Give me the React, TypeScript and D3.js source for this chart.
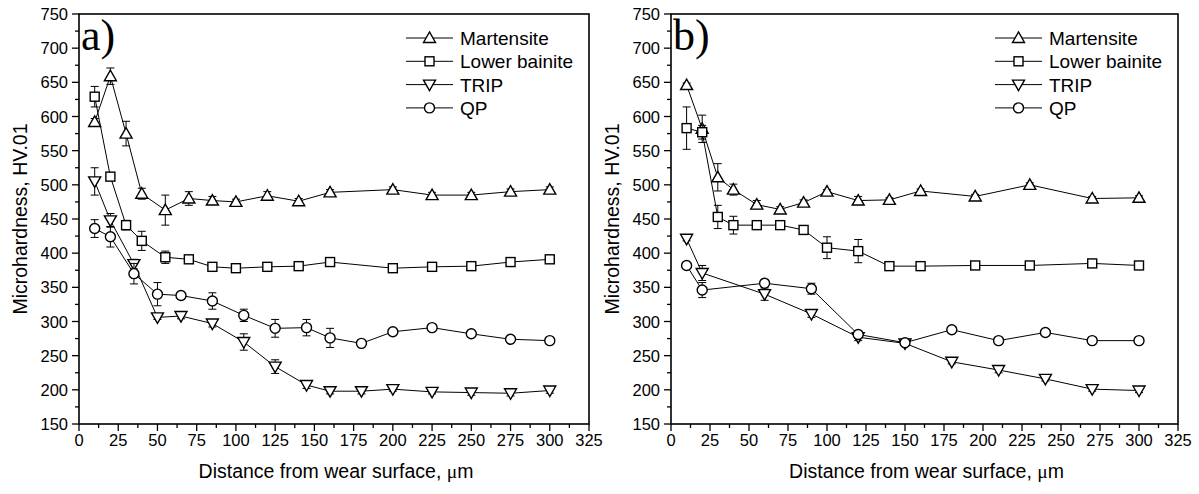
import React from 'react';
import * as d3 from 'd3';

// panel a) data
const aMartX = [10, 20, 30, 40, 55, 70, 85, 100, 120, 140, 160, 200, 225, 250, 275, 300];
const aMartY = [592, 659, 575, 487, 463, 480, 477, 475, 484, 476, 489, 493, 485, 485, 490, 493];
const aMartE = [5, 12, 18, 8, 22, 10, 6, 4, 6, 4, 4, 4, 4, 4, 4, 4];

const aBainX = [10, 20, 30, 40, 55, 70, 85, 100, 120, 140, 160, 200, 225, 250, 275, 300];
const aBainY = [629, 512, 441, 418, 394, 391, 380, 378, 380, 381, 387, 378, 380, 381, 387, 391];
const aBainE = [15, 5, 7, 14, 9, 5, 4, 3, 3, 3, 3, 4, 3, 3, 4, 3];

const aTripX = [10, 20, 35, 50, 65, 85, 105, 125, 145, 160, 180, 200, 225, 250, 275, 300];
const aTripY = [505, 448, 384, 306, 308, 297, 270, 234, 207, 198, 198, 201, 197, 196, 195, 199];
const aTripE = [20, 10, 7, 3, 4, 5, 12, 10, 5, 4, 4, 3, 3, 4, 4, 4];

const aQpX = [10, 20, 35, 50, 65, 85, 105, 125, 145, 160, 180, 200, 225, 250, 275, 300];
const aQpY = [436, 424, 370, 340, 338, 330, 309, 290, 291, 276, 268, 285, 291, 282, 274, 272];
const aQpE = [13, 15, 15, 17, 5, 12, 9, 13, 12, 14, 3, 3, 3, 3, 4, 4];

// panel b) data
const bMartX = [10, 20, 30, 40, 55, 70, 85, 100, 120, 140, 160, 195, 230, 270, 300];
const bMartY = [646, 582, 511, 493, 471, 464, 474, 490, 477, 478, 491, 483, 500, 480, 481];
const bMartE = [3, 20, 20, 8, 6, 4, 4, 3, 6, 3, 3, 3, 3, 3, 3];

const bBainX = [10, 20, 30, 40, 55, 70, 85, 100, 120, 140, 160, 195, 230, 270, 300];
const bBainY = [583, 577, 453, 441, 441, 441, 434, 408, 403, 381, 381, 382, 382, 385, 382];
const bBainE = [31, 10, 17, 13, 5, 4, 5, 16, 17, 3, 3, 3, 3, 3, 3];

const bTripX = [10, 20, 60, 90, 120, 150, 180, 210, 240, 270, 300];
const bTripY = [421, 371, 340, 311, 277, 268, 241, 229, 216, 201, 199];
const bTripE = [3, 11, 9, 5, 5, 3, 3, 4, 3, 3, 3];

const bQpX = [10, 20, 60, 90, 120, 150, 180, 210, 240, 270, 300];
const bQpY = [382, 346, 356, 348, 281, 269, 288, 272, 284, 272, 272];
const bQpE = [4, 11, 5, 8, 5, 3, 3, 3, 3, 3, 3];

const seriesNames = ['Martensite', 'Lower bainite', 'TRIP', 'QP'];
const seriesShapes = ['up', 'square', 'down', 'circle'];
const xTicks = d3.range(0, 326, 25);
const yTicks = d3.range(150, 751, 50);

const font = 'Liberation Sans, Arial, sans-serif';
const serif = 'Liberation Serif, Times New Roman, serif';

function Marker({ shape, x, y }: { shape: string; x: number; y: number }) {
  const st = { fill: '#fff', stroke: '#000', strokeWidth: 1.4 };
  if (shape === 'circle') return <circle cx={x} cy={y} r={5} {...st} />;
  if (shape === 'square') return <rect x={x - 4.5} y={y - 4.5} width={9} height={9} {...st} />;
  const s = shape === 'up' ? 1 : -1;
  const pts = [[x, y - 6 * s], [x - 6, y + 4.5 * s], [x + 6, y + 4.5 * s]];
  return <polygon points={pts.map((p) => p.join(',')).join(' ')} {...st} />;
}

function Panel({ left, right, label, series }: any) {
  const top = 14;
  const bottom = 424;
  const x = d3.scaleLinear().domain([0, 325]).range([left, right]);
  const y = d3.scaleLinear().domain([150, 750]).range([bottom, top]);
  const line = d3.line<number[]>().x((d) => x(d[0])).y((d) => y(d[1]));
  const minorX = d3.range(12.5, 325, 25);
  const minorY = d3.range(175, 750, 50);
  const cx = (left + right) / 2 + 2;
  const legendX = right - 183;

  return (
    <g>
      {/* series: lines, error bars, markers */}
      {series.map((s: any, i: number) => {
        const pts = s.xs.map((v: number, j: number) => [v, s.ys[j]]);
        return (
          <g key={i}>
            <path d={line(pts) || ''} fill="none" stroke="#000" strokeWidth={1} />
            {s.xs.map((v: number, j: number) => (
              <g key={j} stroke="#000" strokeWidth={1}>
                <line x1={x(v)} x2={x(v)} y1={y(s.ys[j] + s.es[j])} y2={y(s.ys[j] - s.es[j])} />
                <line x1={x(v) - 4} x2={x(v) + 4} y1={y(s.ys[j] + s.es[j])} y2={y(s.ys[j] + s.es[j])} />
                <line x1={x(v) - 4} x2={x(v) + 4} y1={y(s.ys[j] - s.es[j])} y2={y(s.ys[j] - s.es[j])} />
              </g>
            ))}
            {s.xs.map((v: number, j: number) => (
              <Marker key={'m' + j} shape={seriesShapes[i]} x={x(v)} y={y(s.ys[j])} />
            ))}
          </g>
        );
      })}

      {/* frame */}
      <rect x={left} y={top} width={right - left} height={bottom - top} fill="none" stroke="#000" strokeWidth={1.6} />

      {/* x ticks */}
      {xTicks.map((t) => (
        <g key={'x' + t}>
          <line x1={x(t)} x2={x(t)} y1={bottom} y2={bottom + 7} stroke="#000" strokeWidth={1.3} />
          <text x={x(t)} y={bottom + 22} textAnchor="middle" fontSize={16.5} fontFamily={font}>{t}</text>
        </g>
      ))}
      {minorX.map((t) => (
        <line key={'mx' + t} x1={x(t)} x2={x(t)} y1={bottom} y2={bottom + 4} stroke="#000" strokeWidth={1.3} />
      ))}

      {/* y ticks */}
      {yTicks.map((t) => (
        <g key={'y' + t}>
          <line x1={left - 7} x2={left} y1={y(t)} y2={y(t)} stroke="#000" strokeWidth={1.3} />
          <text x={left - 11} y={y(t) + 6} textAnchor="end" fontSize={16.5} fontFamily={font}>{t}</text>
        </g>
      ))}
      {minorY.map((t) => (
        <line key={'my' + t} x1={left - 4} x2={left} y1={y(t)} y2={y(t)} stroke="#000" strokeWidth={1.3} />
      ))}

      {/* axis titles */}
      <text x={cx} y={478} textAnchor="middle" fontSize={19.5} fontFamily={font}>
        Distance from wear surface, <tspan fontFamily={serif}>μ</tspan>m
      </text>
      <text
        transform={`translate(${left - 52},${(top + bottom) / 2}) rotate(-90)`}
        textAnchor="middle"
        fontSize={19.5}
        fontFamily={font}
      >
        Microhardness, HV.01
      </text>

      {/* panel label */}
      <text x={left + 2} y={50} fontSize={44} fontFamily={serif}>{label}</text>

      {/* legend */}
      {seriesNames.map((n, i) => {
        const ly = 38 + i * 23.3;
        return (
          <g key={n}>
            <line x1={legendX} x2={legendX + 47} y1={ly} y2={ly} stroke="#000" strokeWidth={1} />
            <Marker shape={seriesShapes[i]} x={legendX + 23.5} y={ly} />
            <text x={legendX + 54} y={ly + 7} fontSize={19} fontFamily={font}>{n}</text>
          </g>
        );
      })}
    </g>
  );
}

export default function App() {
  const seriesA = [
    { xs: aMartX, ys: aMartY, es: aMartE },
    { xs: aBainX, ys: aBainY, es: aBainE },
    { xs: aTripX, ys: aTripY, es: aTripE },
    { xs: aQpX, ys: aQpY, es: aQpE },
  ];
  const seriesB = [
    { xs: bMartX, ys: bMartY, es: bMartE },
    { xs: bBainX, ys: bBainY, es: bBainE },
    { xs: bTripX, ys: bTripY, es: bTripE },
    { xs: bQpX, ys: bQpY, es: bQpE },
  ];
  return (
    <svg
      width={1199}
      height={494}
      style={{ position: 'absolute', left: 0, top: 0, background: '#fff' }}
    >
      <rect width={1199} height={494} fill="#fff" />
      <Panel left={79} right={589} label="a)" series={seriesA} />
      <Panel left={671} right={1178} label="b)" series={seriesB} />
    </svg>
  );
}
